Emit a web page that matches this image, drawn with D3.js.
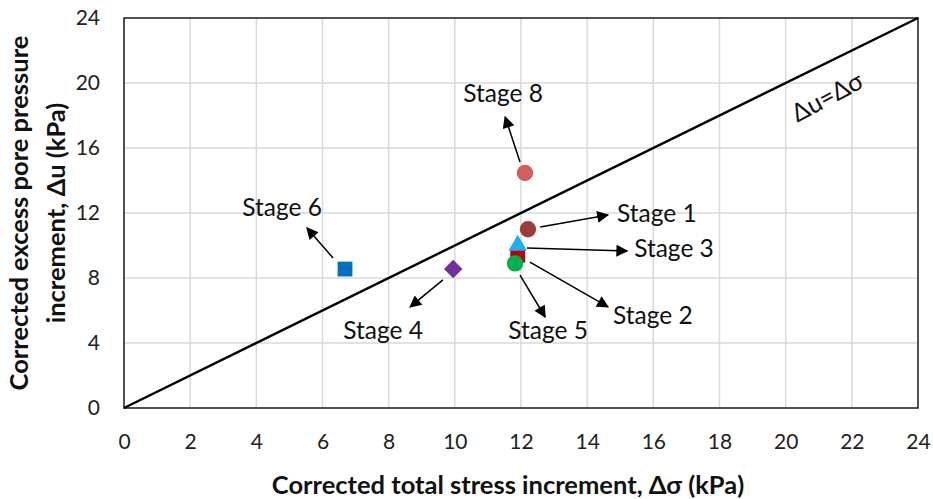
<!DOCTYPE html>
<html>
<head>
<meta charset="utf-8">
<script src="https://cdn.jsdelivr.net/npm/d3@7/dist/d3.min.js"></script>
<style>
  body { margin: 0; background: #fff; }
  svg { display: block; font-family: Lato, "Open Sans", sans-serif; }
</style>
</head>
<body>
<div id="chart"></div>
<script>
// data (kPa)
var stages = ['Stage 8', 'Stage 1', 'Stage 2', 'Stage 3', 'Stage 5', 'Stage 4', 'Stage 6']
var dSigma = [12.12, 12.21, 11.9, 11.9, 11.82, 9.95, 6.68]
var dU = [14.46, 11.0, 9.4, 10.0, 8.9, 8.55, 8.55]
var shapes = ['circle', 'circle', 'square', 'triangle', 'circle', 'diamond', 'square']
var colors = ['#d0605c', '#9c3b3b', '#c00000', '#1cb0ee', '#00b050', '#7030a0', '#0070c0']
var xTicks = d3.range(0, 25, 2)
var yTicks = d3.range(0, 25, 4)
var lineRef = [0, 24]

// annotation arrows, in data units: [from x, from y, to x, to y, label x, label y, anchor]
var notes = {
	'Stage 8': [11.97, 15.14, 11.52, 17.91, 11.46, 19.38, 'middle'],
	'Stage 1': [12.58, 11.14, 14.63, 11.88, 14.9, 12.0, 'start'],
	'Stage 3': [12.18, 9.85, 15.21, 9.66, 15.42, 9.85, 'start'],
	'Stage 2': [12.27, 8.98, 14.63, 6.22, 14.78, 5.72, 'start'],
	'Stage 5': [11.97, 8.18, 12.73, 5.6, 12.82, 4.8, 'middle'],
	'Stage 4': [9.64, 7.88, 8.65, 6.22, 7.83, 4.8, 'middle'],
	'Stage 6': [6.32, 9.23, 5.53, 11.08, 4.78, 12.37, 'middle']
}

var W = 933, H = 499,
	margins = {top: 18, right: 15, bottom: 91, left: 124},
	width = W - margins.left - margins.right,
	height = H - margins.top - margins.bottom

var svg = d3.select('#chart').append('svg')
	.attr('width', W)
	.attr('height', H)

svg.append('defs').append('marker')
	.attr('id', 'arrow')
	.attr('viewBox', '0 0 10 10')
	.attr('refX', 9)
	.attr('refY', 5)
	.attr('markerWidth', 15)
	.attr('markerHeight', 12)
	.attr('markerUnits', 'userSpaceOnUse')
	.attr('orient', 'auto')
	.append('path')
	.attr('d', 'M0,0 L10,5 L0,10 Z')
	.attr('fill', '#000')

var g = svg.append('g')
	.attr('transform', 'translate(' + margins.left + ',' + margins.top + ')')

var x = d3.scaleLinear().domain([0, 24]).range([0, width])
var y = d3.scaleLinear().domain([0, 24]).range([height, 0])

// grid
g.append('g')
	.selectAll('line')
	.data(xTicks)
	.join('line')
	.attr('x1', d => x(d)).attr('x2', d => x(d))
	.attr('y1', 0).attr('y2', height)
	.attr('stroke', '#d9d9d9')
	.attr('stroke-width', 1.5)

g.append('g')
	.selectAll('line')
	.data(yTicks)
	.join('line')
	.attr('x1', 0).attr('x2', width)
	.attr('y1', d => y(d)).attr('y2', d => y(d))
	.attr('stroke', '#d9d9d9')
	.attr('stroke-width', 1.5)

// axes
var xAxis = g.append('g')
	.attr('transform', 'translate(0,' + height + ')')
	.call(d3.axisBottom(x).tickValues(xTicks).tickSize(0).tickPadding(26))
var yAxis = g.append('g')
	.call(d3.axisLeft(y).tickValues(yTicks).tickSize(0).tickPadding(24))

xAxis.select('.domain').remove()
yAxis.select('.domain').remove()
g.selectAll('.tick text')
	.attr('font-family', 'Lato, sans-serif')
	.attr('font-size', 21)
	.attr('fill', '#222')

// plot frame
g.append('rect')
	.attr('width', width)
	.attr('height', height)
	.attr('fill', 'none')
	.attr('stroke', '#222')
	.attr('stroke-width', 1.5)

// 1:1 line
g.append('line')
	.attr('x1', x(lineRef[0])).attr('y1', y(lineRef[0]))
	.attr('x2', x(lineRef[1])).attr('y2', y(lineRef[1]))
	.attr('stroke', '#000')
	.attr('stroke-width', 2.4)

var ang = Math.atan2(y(0) - y(24), x(24) - x(0)) * 180 / Math.PI
g.append('text')
	.attr('transform', 'translate(' + x(21.25) + ',' + y(19.14) + ') rotate(' + (-ang - 2) + ')')
	.attr('text-anchor', 'middle')
	.attr('dy', '0.35em')
	.attr('font-size', 25)
	.attr('fill', '#111')
	.text('Δu=Δσ')

// arrows + labels
stages.forEach(function(s) {
	var n = notes[s]
	g.append('line')
		.attr('x1', x(n[0])).attr('y1', y(n[1]))
		.attr('x2', x(n[2])).attr('y2', y(n[3]))
		.attr('stroke', '#000')
		.attr('stroke-width', 1.5)
		.attr('marker-end', 'url(#arrow)')
	g.append('text')
		.attr('x', x(n[4]))
		.attr('y', y(n[5]))
		.attr('dy', '0.35em')
		.attr('text-anchor', n[6])
		.attr('font-size', 24.5)
		.attr('fill', '#111')
		.text(s)
})

// points
var symbolType = {
	circle: [d3.symbolCircle, 210],
	square: [d3.symbolSquare, 220],
	triangle: [d3.symbolTriangle, 150],
	diamond: [d3.symbolSquare, 170]
}
var pts = stages.map(function(s, i) {
	return {name: s, x: dSigma[i], y: dU[i], shape: shapes[i], color: colors[i]}
})
g.append('g')
	.selectAll('path')
	.data(pts)
	.join('path')
	.attr('transform', d => 'translate(' + x(d.x) + ',' + y(d.y) + ')' + (d.shape === 'diamond' ? ' rotate(45)' : ''))
	.attr('d', d => d3.symbol().type(symbolType[d.shape][0]).size(symbolType[d.shape][1])())
	.attr('fill', d => d.color)

// axis titles
svg.append('text')
	.attr('x', 508)
	.attr('y', 494)
	.attr('text-anchor', 'middle')
	.attr('font-size', 25.5)
	.attr('font-weight', 'bold')
	.attr('fill', '#111')
	.text('Corrected total stress increment, Δσ (kPa)')

var yTitle = svg.append('text')
	.attr('transform', 'translate(39,213) rotate(-90)')
	.attr('text-anchor', 'middle')
	.attr('font-size', 25.5)
	.attr('font-weight', 'bold')
	.attr('fill', '#111')
yTitle.append('tspan').attr('x', 0).attr('y', -11).text('Corrected excess pore pressure')
yTitle.append('tspan').attr('x', 0).attr('y', 26).text('increment, Δu (kPa)')
</script>
</body>
</html>
